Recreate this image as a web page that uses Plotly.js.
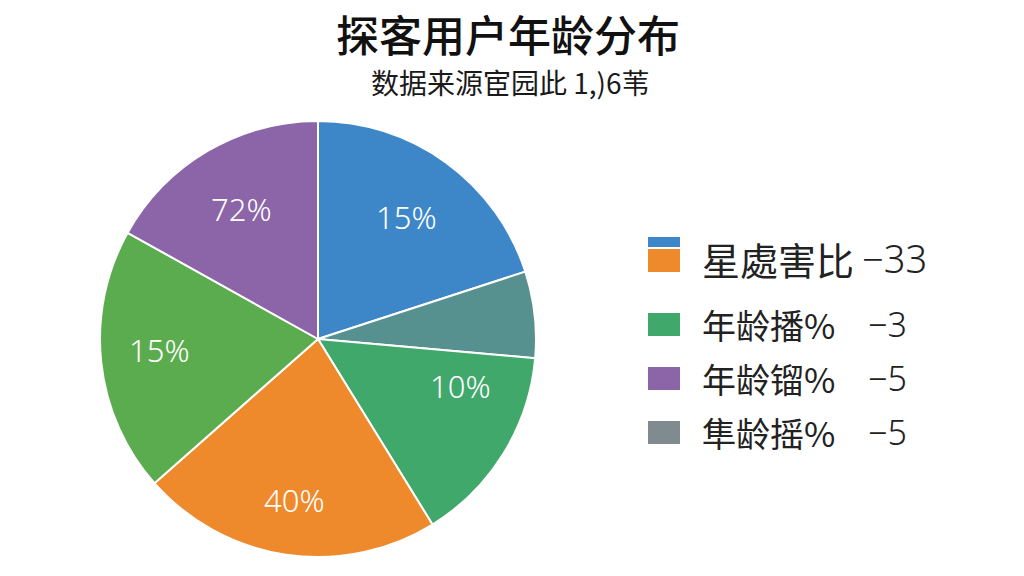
<!DOCTYPE html>
<html>
<head>
<meta charset="utf-8">
<script src="https://cdn.plot.ly/plotly-3.0.1.min.js"></script>
<style>
html,body{margin:0;padding:0;background:#fff;}
#chart{width:1024px;height:576px;}
</style>
</head>
<body>
<div id="chart"></div>
<script>
// ---- data ----
const sliceNames = ["蓝", "灰", "绿", "橙", "浅绿", "紫"];
const sliceValues = [20.0, 6.4, 14.8, 22.3, 19.6, 16.9];
const sliceLabels = ["15%", "", "10%", "40%", "15%", "72%"];
const sliceColors = ["#3d87c9", "#57918f", "#41a86c", "#ee8a2b", "#5bab4f", "#8c64a8"];

const legendLabels = ["星處害比", "年龄播%", "年龄镏%", "隼龄摇%"];
const legendValues = ["−33", "−3", "−5", "−5"];
const legendColors = [["#3d87c9", "#ee8a2b"], ["#41a86c"], ["#8c64a8"], ["#7f8b8f"]];

const titleText = "探客用户年龄分布";
const subtitleText = "数据来源宦园此 1,)6苇";

// ---- layout / style (positions kept separate from data) ----
const W = 1024, H = 576;
const cx = 318, cy = 339, R = 218;
const labelAngleFrac = [0.5, 0.5, 0.25, 0.5, 0.53, 0.5];
const labelRadiusFrac = [0.69, 0.69, 0.69, 0.745, 0.73, 0.69];
const font = '"Noto Sans CJK SC", "Noto Sans", sans-serif';

const shapes = [];
const annotations = [];

// subtitle
annotations.push({
  text: subtitleText, xref: 'paper', yref: 'paper',
  x: 510 / W, y: 1 - 82 / H, xanchor: 'center', yanchor: 'middle',
  showarrow: false, font: {family: font, size: 28, color: '#1a1a1a'}
});

// legend (manual, since one entry combines two colours)
const rowY = [258, 324, 378, 432];
const rowFont = [38, 34, 34, 34];
const valX = [860, 866, 866, 866];
legendLabels.forEach((lab, i) => {
  const yc = rowY[i];
  const cols = legendColors[i];
  if (cols.length === 2) {
    shapes.push({type: 'rect', xref: 'paper', yref: 'paper', line: {width: 0}, fillcolor: cols[0],
      x0: 648 / W, x1: 680 / W, y0: 1 - 247 / H, y1: 1 - 237 / H});
    shapes.push({type: 'rect', xref: 'paper', yref: 'paper', line: {width: 0}, fillcolor: cols[1],
      x0: 648 / W, x1: 680 / W, y0: 1 - 272 / H, y1: 1 - 249 / H});
  } else {
    shapes.push({type: 'rect', xref: 'paper', yref: 'paper', line: {width: 0}, fillcolor: cols[0],
      x0: 648 / W, x1: 680 / W, y0: 1 - (yc + 12) / H, y1: 1 - (yc - 11) / H});
  }
  annotations.push({
    text: lab, xref: 'paper', yref: 'paper', x: 700 / W, y: 1 - yc / H,
    xanchor: 'left', yanchor: 'middle', showarrow: false,
    font: {family: font, size: rowFont[i], color: '#222'}
  });
  annotations.push({
    text: legendValues[i], xref: 'paper', yref: 'paper', x: valX[i] / W, y: 1 - yc / H,
    xanchor: 'left', yanchor: 'middle', showarrow: false,
    font: {family: '"Noto Sans", sans-serif', size: rowFont[i], color: '#222', weight: 300}
  });
});

// slice labels placed inside each slice, angle derived from the data
const total = sliceValues.reduce((a, b) => a + b, 0);
let acc = 0;
sliceValues.forEach((v, i) => {
  const ang = (acc + v * labelAngleFrac[i]) / total * 2 * Math.PI;
  acc += v;
  if (!sliceLabels[i]) return;
  const rr = R * labelRadiusFrac[i];
  const px = cx + rr * Math.sin(ang);
  const py = cy - rr * Math.cos(ang);
  annotations.push({
    text: sliceLabels[i], xref: 'paper', yref: 'paper', x: px / W, y: 1 - py / H,
    xanchor: 'center', yanchor: 'middle', showarrow: false,
    font: {family: '"Noto Sans", sans-serif', size: 31, color: '#ffffff', weight: 300}
  });
});

const trace = {
  type: 'pie',
  labels: sliceNames,
  values: sliceValues,
  sort: false,
  direction: 'clockwise',
  rotation: 0,
  textinfo: 'none',
  hoverinfo: 'none',
  marker: {colors: sliceColors, line: {color: '#ffffff', width: 2}},
  domain: {x: [(cx - R) / W, (cx + R) / W], y: [1 - (cy + R) / H, 1 - (cy - R) / H]},
  showlegend: false
};

const layout = {
  width: W, height: H,
  margin: {l: 0, r: 0, t: 0, b: 0},
  paper_bgcolor: '#ffffff',
  title: {
    text: titleText, x: 508 / W, xanchor: 'center', y: 1 - 37 / H, yanchor: 'middle',
    font: {family: font, size: 43, color: '#111', weight: 500}
  },
  showlegend: false,
  shapes: shapes,
  annotations: annotations
};

Plotly.newPlot('chart', [trace], layout, {displayModeBar: false, staticPlot: true});
</script>
</body>
</html>
